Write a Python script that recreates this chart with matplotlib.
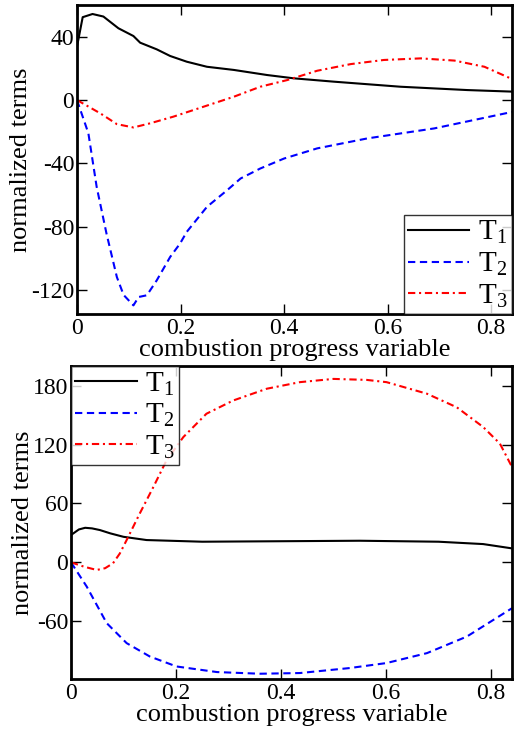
import matplotlib
matplotlib.use("Agg")
import matplotlib.pyplot as plt

plt.rcParams['font.family'] = ['Liberation Serif', 'DejaVu Serif']
plt.rcParams['mathtext.fontset'] = 'custom'
plt.rcParams['mathtext.rm'] = 'Liberation Serif'
plt.rcParams['mathtext.it'] = 'Liberation Serif'

# top panel data
top_t1_x = [0.0, 0.011, 0.030, 0.051, 0.080, 0.109, 0.122, 0.154, 0.180, 0.212, 0.251, 0.303, 0.367, 0.419, 0.496, 0.625, 0.754, 0.842]
top_t1_y = [33.7, 52.3, 54.3, 52.7, 45.3, 40.4, 36.2, 32.0, 27.8, 24.2, 21.0, 19.0, 15.8, 13.7, 11.6, 8.4, 6.3, 5.3]
top_t2_x = [0.0, 0.022, 0.038, 0.057, 0.077, 0.090, 0.109, 0.119, 0.135, 0.154, 0.180, 0.199, 0.212, 0.251, 0.290, 0.316, 0.354, 0.400, 0.464, 0.561, 0.690, 0.842]
top_t2_y = [0.0, -21.0, -54.8, -84.3, -111.7, -123.0, -129.6, -124.3, -123.2, -113.8, -99.0, -90.6, -83.2, -67.4, -56.9, -49.5, -43.2, -36.9, -30.5, -24.2, -17.9, -7.4]
top_t3_x = [0.0, 0.045, 0.077, 0.109, 0.141, 0.186, 0.225, 0.264, 0.303, 0.354, 0.406, 0.464, 0.529, 0.593, 0.664, 0.729, 0.787, 0.842]
top_t3_y = [0.0, -8.4, -15.2, -17.3, -14.7, -10.5, -6.3, -2.1, 2.1, 8.4, 12.6, 18.5, 22.7, 25.3, 26.3, 24.9, 21.0, 13.0]

# bottom panel data
bot_t1_x = [0.0, 0.015, 0.027, 0.040, 0.055, 0.075, 0.100, 0.144, 0.250, 0.400, 0.550, 0.700, 0.785, 0.840]
bot_t1_y = [27.8, 33.5, 35.2, 34.6, 32.9, 29.5, 26.0, 22.7, 21.0, 21.5, 22.0, 21.0, 18.6, 14.2]
bot_t2_x = [0.0, 0.030, 0.068, 0.106, 0.150, 0.201, 0.278, 0.360, 0.436, 0.531, 0.601, 0.678, 0.754, 0.840]
bot_t2_y = [0.0, -24.8, -62.0, -82.4, -96.0, -106.2, -111.9, -113.6, -112.9, -107.8, -102.7, -92.6, -75.7, -46.8]
bot_t3_x = [0.0, 0.025, 0.049, 0.065, 0.080, 0.093, 0.106, 0.131, 0.157, 0.182, 0.214, 0.258, 0.309, 0.373, 0.436, 0.500, 0.563, 0.601, 0.678, 0.735, 0.785, 0.817, 0.840]
bot_t3_y = [0.0, -4.5, -7.8, -6.0, -1.0, 9.0, 22.7, 49.8, 76.9, 104.0, 127.7, 151.5, 165.0, 177.0, 183.7, 187.0, 186.0, 183.7, 171.9, 158.0, 138.0, 121.0, 97.2]

labels = [r'T$_1$', r'T$_2$', r'T$_3$']

fig = plt.figure(figsize=(5.31, 7.31), dpi=100)
ax1 = fig.add_axes([0.145, 0.5705, 0.819, 0.4227])
ax2 = fig.add_axes([0.1337, 0.0711, 0.8305, 0.428])


def style(ax, yticks, ylim, legloc):
    ax.set_xlim(0, 0.84)
    ax.set_ylim(*ylim)
    ax.set_xticks([0, 0.2, 0.4, 0.6, 0.8])
    ax.set_xticklabels(['0', '0.2', '0.4', '0.6', '0.8'])
    ax.set_yticks(yticks)
    ax.set_yticklabels([str(v) for v in yticks])
    ax.tick_params(direction='in', top=True, right=True, length=7, width=1,
                   labelsize=17)
    ax.tick_params(axis='x', pad=3)
    ax.tick_params(axis='y', pad=2)
    for s in ax.spines.values():
        s.set_linewidth(2)
    ax.set_xlabel('combustion progress variable', fontsize=19, labelpad=0)
    ax.set_ylabel('normalized terms', fontsize=19, labelpad=-1)
    leg = ax.legend(loc=legloc, fontsize=21, frameon=True, fancybox=False,
                    edgecolor='black', borderaxespad=0, handlelength=2.1,
                    labelspacing=0.15, borderpad=0.15, handletextpad=0.3)
    leg.get_frame().set_linewidth(1.0)


ax1.plot(top_t1_x, top_t1_y, color='black', lw=1.5, label=labels[0])
ax1.plot(top_t2_x, top_t2_y, color='blue', lw=1.5, dashes=(3.5, 2.2), label=labels[1])
ax1.plot(top_t3_x, top_t3_y, color='red', lw=1.5, dashes=(3.5, 1.8, 1, 1.8), label=labels[2])
style(ax1, [-120, -80, -40, 0, 40], (-135, 60), 'lower right')

ax2.plot(bot_t1_x, bot_t1_y, color='black', lw=1.5, label=labels[0])
ax2.plot(bot_t2_x, bot_t2_y, color='blue', lw=1.5, dashes=(3.5, 2.2), label=labels[1])
ax2.plot(bot_t3_x, bot_t3_y, color='red', lw=1.5, dashes=(3.5, 1.8, 1, 1.8), label=labels[2])
style(ax2, [-60, 0, 60, 120, 180], (-119, 200), 'upper left')

fig.savefig('out.png', dpi=100)
